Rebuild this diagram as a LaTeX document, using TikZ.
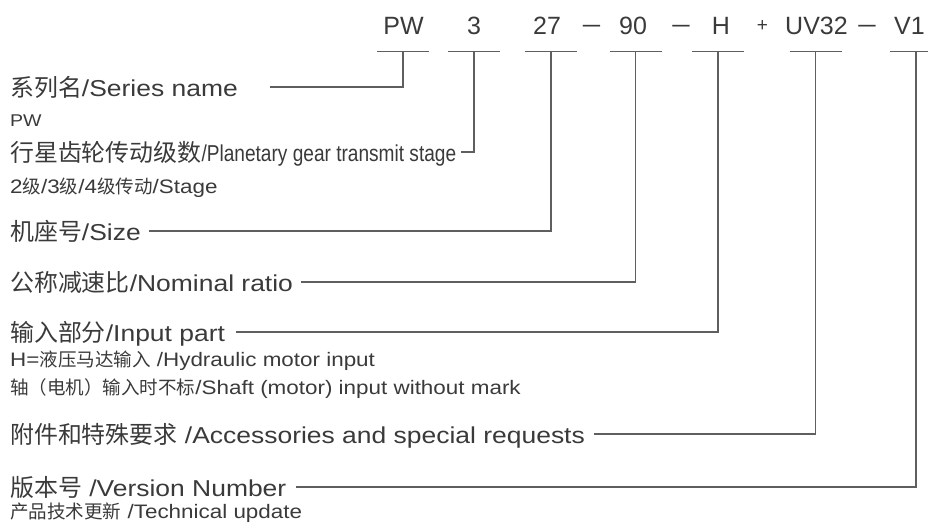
\documentclass[tikz,border=0pt]{standalone}
\usepackage{fontspec}
\setmainfont{Liberation Sans}[FakeStretch=1.15]
\newfontfamily\codefont{Liberation Sans}
\newfontfamily\condfont{Liberation Sans}[FakeStretch=0.83]
\newfontfamily\cjk{Noto Sans CJK SC}[Scale=1.04]
\newfontfamily\cjksm{Noto Sans CJK SC}[Scale=0.95]
\usetikzlibrary{positioning}
\definecolor{ink}{RGB}{58,58,58}
\definecolor{wire}{RGB}{95,95,95}

\tikzset{
  lbl/.style={anchor=west, inner xsep=5pt, inner ysep=0pt, text height=18pt, text depth=0pt, text=ink, font=\fontsize{23}{26}\selectfont},
  note/.style={anchor=base west, inner sep=0pt, text=ink, font=\fontsize{19.5}{22}\selectfont},
  code/.style={anchor=base, inner sep=0pt, text=ink, font=\codefont\fontsize{25}{28}\selectfont},
  bar/.style={draw=wire, line width=1pt},
  conn/.style={draw=wire, line width=1.1pt},
}
\newcommand{\codedash}{\scalebox{1.25}[1]{–}}

\begin{document}
\begin{tikzpicture}[x=1pt, y=-1pt]
    \useasboundingbox (0,0) rectangle (928,528);

    % type code
    \node[code] (cPW) at (403.5,34) {PW};
    \node[code] (c3) at (474,34) {3};
    \node[code] (c27) at (547,34) {27};
    \node[code] (cDashA) at (591.5,32) {\codedash};
    \node[code] (c90) at (633,34) {90};
    \node[code] (cDashB) at (681,32) {\codedash};
    \node[code] (cH) at (721,34) {H};
    \node[code, font=\codefont\fontsize{19}{20}\selectfont] (cPlus) at (762.5,31) {+};
    \node[code] (cUV) at (816.5,34) {UV32};
    \node[code] (cDashC) at (867,32) {\codedash};
    \node[code] (cV) at (909.5,34) {V1};

    % marks under the code
    \coordinate (bPW) at (403,51);
    \coordinate (b3) at (474,51);
    \coordinate (b27) at (551,51);
    \coordinate (b90) at (635.5,51);
    \coordinate (bH) at (718,51);
    \coordinate (bUV) at (815.5,51);
    \coordinate (bV) at (916,51);
    \draw[bar] ([xshift=-26pt]bPW) -- ([xshift=26pt]bPW);
    \draw[bar] ([xshift=-26pt]b3) -- ([xshift=26pt]b3);
    \draw[bar] ([xshift=-26pt]b27) -- ([xshift=26pt]b27);
    \draw[bar] ([xshift=-26pt]b90) -- ([xshift=26pt]b90);
    \draw[bar] ([xshift=-26pt]bH) -- ([xshift=26pt]bH);
    \draw[bar] ([xshift=-26pt]bUV) -- ([xshift=26pt]bUV);
    \draw[bar] ([xshift=-26pt]bV) -- ([xshift=26pt]bV);

    % labels
    \node[lbl] (series) at (5,87) {{\cjk 系列名}/Series name};
    \node[note] (seriesNote) at (10,126) {\fontsize{17}{20}\selectfont PW};
    \node[lbl] (stage) at (5,152) {{\cjk 行星齿轮传动级数}{\condfont /Planetary gear transmit stage}};
    \node[note] (stageNote) at (10,193) {2{\cjksm 级}/3{\cjksm 级}/4{\cjksm 级传动}/Stage};
    \node[lbl] (size) at (5,231) {{\cjk 机座号}/Size};
    \node[lbl] (ratio) at (5,282) {{\cjk 公称减速比}/Nominal ratio};
    \node[lbl] (input) at (5,332) {{\cjk 输入部分}/Input part};
    \node[note] (inputNoteA) at (10,366) {H={\cjksm 液压马达输入} /Hydraulic motor input};
    \node[note] (inputNoteB) at (10,394) {{\cjksm 轴（电机）输入时不标}/Shaft (motor) input without mark};
    \node[lbl] (extra) at (5,434) {{\cjk 附件和特殊要求} /Accessories and special requests};
    \node[lbl] (version) at (5,487) {{\cjk 版本号} /Version Number};
    \node[note] (versionNote) at (10,518) {{\cjksm 产品技术更新} /Technical update};

    \draw[conn] ([xshift=27pt]series.east) -| (bPW);
    \draw[conn] (stage.east) -| (b3);
    \draw[conn] ([xshift=3pt]size.east) -| (b27);
    \draw[conn] ([xshift=3pt]ratio.east) -| (b90);
    \draw[conn] ([xshift=6pt]input.east) -| (bH);
    \draw[conn] ([xshift=4pt]extra.east) -| (bUV);
    \draw[conn] ([xshift=4pt]version.east) -| (bV);
\end{tikzpicture}
\end{document}
